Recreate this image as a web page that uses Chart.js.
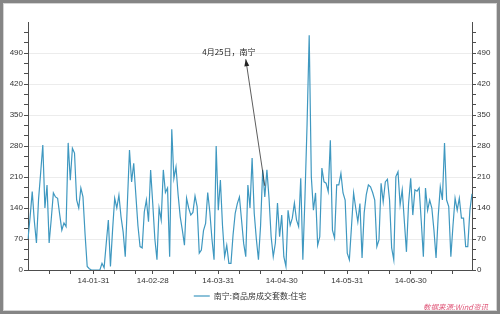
<!DOCTYPE html>
<html>
<head>
<meta charset="utf-8">
<script src="https://cdn.jsdelivr.net/npm/chart.js@4.4.1/dist/chart.umd.min.js"></script>
<style>
  html, body { margin: 0; padding: 0; background: #fff; }
  #wrap { position: relative; width: 500px; height: 314px; overflow: hidden; }
  #chart { position: absolute; left: 0; top: 0; }
  #src { position: absolute; left: 423px; top: 301px; font: italic 7.5px "Noto Sans CJK SC", sans-serif; color: #e0587a; white-space: nowrap; }
  #frame { position: absolute; left: 0; top: 0; width: 500px; height: 314px; box-sizing: border-box;
           border: 3px solid #858585; box-shadow: inset 0 0 0 1px #d4d4d4; pointer-events: none; }
</style>
</head>
<body>
<div id="wrap">
  <canvas id="chart" width="500" height="314"></canvas>
  <div id="src">数据来源:Wind资讯</div>
  <div id="frame"></div>
</div>
<script>
// daily series, 13-12-31 .. 14-07-29
const VALUES = [
  70, 120, 177, 110, 61, 160, 220, 282, 140, 192,
  61, 115, 174, 165, 162, 125, 90, 106, 98, 287,
  203, 275, 264, 158, 140, 185, 165, 80, 8, 3,
  0, 0, 0, 0, 0, 15, 5, 60, 113, 8,
  90, 162, 140, 169, 120, 86, 30, 150, 271, 199,
  241, 170, 100, 53, 50, 131, 158, 109, 226, 150,
  70, 23, 140, 113, 226, 175, 185, 30, 318, 207,
  233, 170, 120, 90, 56, 162, 140, 124, 130, 167,
  143, 38, 45, 89, 105, 175, 131, 70, 23, 280,
  135, 203, 100, 30, 56, 15, 15, 80, 128, 150,
  165, 113, 60, 30, 192, 140, 253, 128, 70, 23,
  100, 226, 165, 226, 162, 75, 30, 61, 151, 75,
  124, 30, 8, 135, 101, 117, 151, 113, 98, 207,
  23, 165, 330, 530, 211, 135, 174, 56, 75, 230,
  199, 196, 177, 293, 90, 72, 192, 192, 218, 174,
  158, 38, 23, 98, 174, 140, 109, 150, 27, 129,
  170, 192, 188, 175, 158, 53, 68, 196, 154, 199,
  205, 158, 50, 23, 211, 222, 147, 181, 110, 41,
  150, 207, 124, 181, 178, 185, 110, 30, 185, 135,
  158, 140, 90, 27, 120, 188, 158, 287, 158, 143,
  30, 100, 162, 135, 162, 117, 117, 53, 53, 135, 172
];
const START = Date.UTC(2013, 11, 31);
const pad2 = (n) => String(n).padStart(2, "0");
const LABELS = VALUES.map((_, i) => {
  const d = new Date(START + i * 864e5);
  return String(d.getUTCFullYear()).slice(2) + "-" + pad2(d.getUTCMonth() + 1) + "-" + pad2(d.getUTCDate());
});
const X_TICK_LABELS = ["14-01-31", "14-02-28", "14-03-31", "14-04-30", "14-05-31", "14-06-30"];
const Y_MAJOR = [0, 70, 140, 210, 280, 350, 420, 490];
const Y_MINOR_PER_STEP = 3;
const SERIES_NAME = "南宁:商品房成交套数:住宅";
const NOTE_TEXT = "4月25日，南宁";
const NOTE_AT = ["14-04-05", 492];
const ARROW_HEAD = ["14-04-13", 476];
const ARROW_TAIL = ["14-04-22", 190];

const AXIS = "#4d4d4d", GRID = "#ececec", LINE = "#3f98c0", CLEAR = "rgba(0,0,0,0)";
const FONT = "'Liberation Sans', sans-serif";

const isMajorY = (v) => Y_MAJOR.some((m) => Math.abs(m - v) < 1e-6);
const yTicks = [];
Y_MAJOR.forEach((m) => { for (let k = 0; k < Y_MINOR_PER_STEP; k++) yTicks.push(m + k * 70 / Y_MINOR_PER_STEP); });

const xTickShown = (i) => {
  const l = LABELS[i];
  return X_TICK_LABELS.includes(l) || l.endsWith("-10") || l.endsWith("-20");
};

const yAxis = (pos) => ({
  position: pos, min: 0, max: 560,
  afterFit: (s) => { s.width = 28; },
  afterBuildTicks: (s) => { s.ticks = yTicks.map((v) => ({ value: v })); },
  border: { color: AXIS, width: 1 },
  grid: {
    drawOnChartArea: pos === "left", tickLength: 4, tickColor: AXIS,
    color: (c) => (c.tick && isMajorY(c.tick.value) && c.tick.value > 0) ? GRID : CLEAR,
  },
  ticks: {
    autoSkip: false, padding: 1, color: "#333", font: { family: FONT, size: 8 },
    callback: (v) => isMajorY(v) ? String(Math.round(v)) : "",
  },
});

const annot = {
  id: "annot",
  afterDatasetsDraw(chart) {
    const { ctx, scales: { x, y } } = chart;
    const px = (p) => [x.getPixelForValue(LABELS.indexOf(p[0])), y.getPixelForValue(p[1])];
    const [tx, ty] = px(NOTE_AT), [hx, hy] = px(ARROW_HEAD), [sx, sy] = px(ARROW_TAIL);
    ctx.save();
    ctx.font = "8px 'Noto Sans CJK SC', sans-serif";
    ctx.fillStyle = "#222"; ctx.textAlign = "center"; ctx.textBaseline = "middle";
    ctx.fillText(NOTE_TEXT, tx, ty);
    ctx.strokeStyle = "#333"; ctx.lineWidth = 0.8;
    ctx.beginPath(); ctx.moveTo(sx, sy); ctx.lineTo(hx, hy); ctx.stroke();
    const a = Math.atan2(hy - sy, hx - sx), L = 7, W = 2.5;
    ctx.fillStyle = "#222";
    ctx.beginPath();
    ctx.moveTo(hx, hy);
    ctx.lineTo(hx - L * Math.cos(a) + W * Math.sin(a), hy - L * Math.sin(a) - W * Math.cos(a));
    ctx.lineTo(hx - L * Math.cos(a) - W * Math.sin(a), hy - L * Math.sin(a) + W * Math.cos(a));
    ctx.closePath(); ctx.fill();
    ctx.restore();
  },
};

new Chart(document.getElementById("chart"), {
  type: "line",
  data: {
    labels: LABELS,
    datasets: [{
      label: SERIES_NAME, data: VALUES, yAxisID: "y",
      borderColor: LINE, backgroundColor: LINE, borderWidth: 1.2,
      pointRadius: 0, tension: 0, fill: false,
    }],
  },
  options: {
    responsive: false, animation: false,
    layout: { padding: { top: 22, left: 0, right: 0, bottom: 4 } },
    plugins: {
      legend: {
        position: "bottom",
        labels: {
          usePointStyle: true, pointStyle: "line", pointStyleWidth: 16, padding: 2,
          color: "#333", font: { family: "'Noto Sans CJK SC', sans-serif", size: 8 },
        },
      },
      tooltip: { enabled: false },
    },
    scales: {
      x: {
        type: "category",
        afterFit: (s) => { s.height = 20; },
        border: { color: AXIS, width: 1 },
        grid: { drawOnChartArea: false, tickLength: 4, color: CLEAR,
                tickColor: (c) => xTickShown(c.index) ? AXIS : CLEAR },
        ticks: {
          autoSkip: false, maxRotation: 0, minRotation: 0, padding: 2,
          color: "#333", font: { family: FONT, size: 8 },
          callback: (v, i) => X_TICK_LABELS.includes(LABELS[i]) ? LABELS[i] : "",
        },
      },
      y: yAxis("left"),
      y2: yAxis("right"),
    },
  },
  plugins: [annot],
});
</script>
</body>
</html>
